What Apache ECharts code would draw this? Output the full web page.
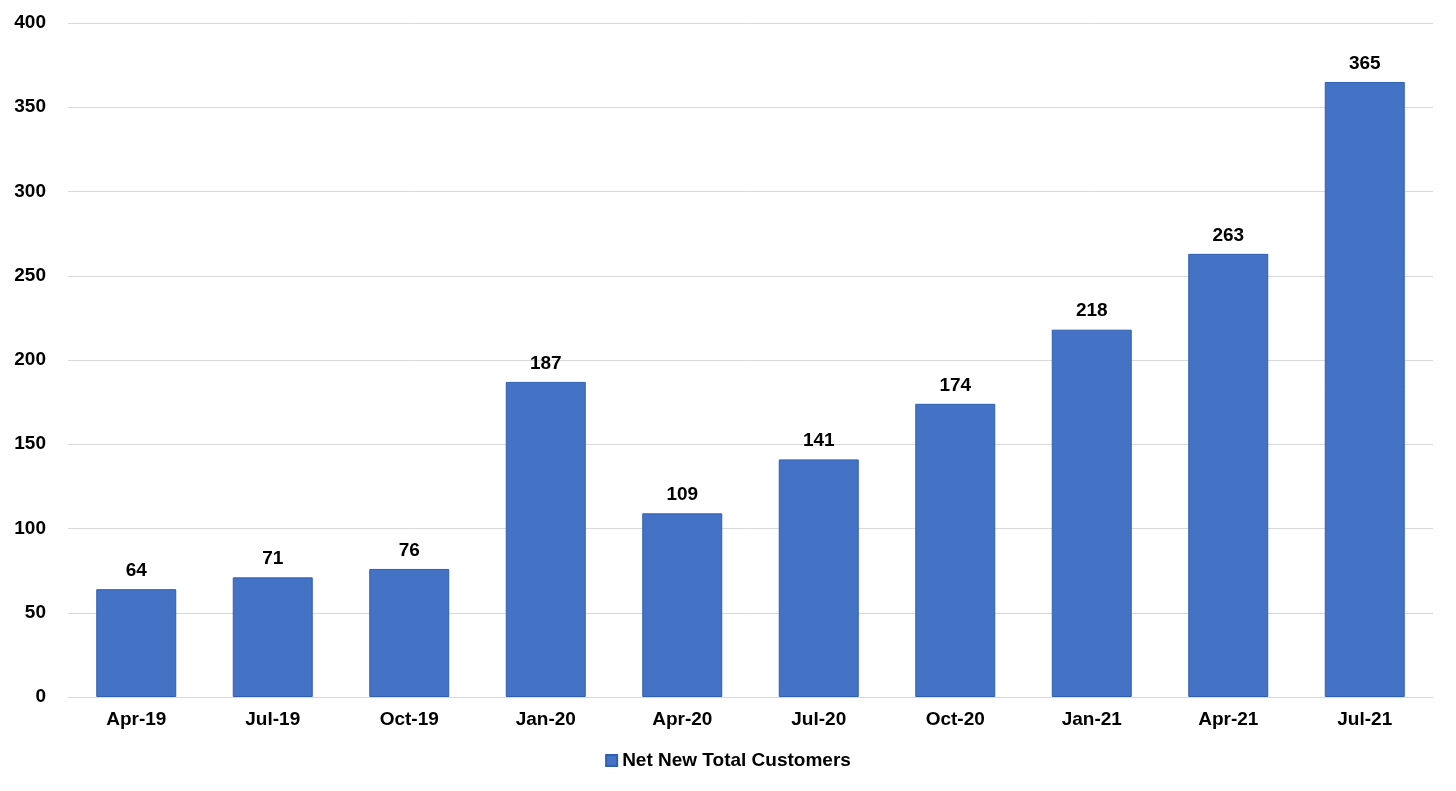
<!DOCTYPE html>
<html>
<head>
<meta charset="utf-8">
<script src="https://cdn.jsdelivr.net/npm/echarts@6/dist/echarts.min.js"></script>
<style>
html,body{margin:0;padding:0;background:#fff;}
#chart{width:1456px;height:791px;}
</style>
</head>
<body>
<div id="chart"></div>
<script>
var categories = ['Apr-19','Jul-19','Oct-19','Jan-20','Apr-20','Jul-20','Oct-20','Jan-21','Apr-21','Jul-21'];
var netNewCustomers = [64, 71, 76, 187, 109, 141, 174, 218, 263, 365];
var seriesName = 'Net New Total Customers';

var FONT = '"Liberation Sans", Arial, sans-serif';
var chart = echarts.init(document.getElementById('chart'));
chart.setOption({
  animation: false,
  backgroundColor: '#ffffff',
  grid: { left: 68, right: 23, top: 23, bottom: 94, containLabel: false },
  legend: {
    bottom: 16,
    left: 'center',
    itemWidth: 11, itemHeight: 11, itemGap: 5,
    icon: 'rect',
    textStyle: { fontFamily: FONT, fontWeight: 'bold', fontSize: 19, color: '#000' },
    data: [seriesName]
  },
  xAxis: {
    type: 'category',
    data: categories,
    axisLine: { show: true, lineStyle: { color: '#d9d9d9', width: 1 } },
    axisTick: { show: false },
    axisLabel: { fontFamily: FONT, fontWeight: 'bold', fontSize: 19, color: '#000', margin: 13 }
  },
  yAxis: {
    type: 'value',
    min: 0, max: 400, interval: 50,
    axisLine: { show: false },
    axisTick: { show: false },
    axisLabel: { fontFamily: FONT, fontWeight: 'bold', fontSize: 19, color: '#000', margin: 22 },
    splitLine: { lineStyle: { color: '#d9d9d9', width: 1 } }
  },
  series: [{
    name: seriesName,
    type: 'bar',
    data: netNewCustomers,
    barWidth: '58.6%',
    itemStyle: { color: '#4472C4', borderColor: '#2f5fb3', borderWidth: 1 },
    label: {
      show: true, position: 'top', distance: 9,
      fontFamily: FONT, fontWeight: 'bold', fontSize: 19, color: '#000'
    }
  }]
});
</script>
</body>
</html>
